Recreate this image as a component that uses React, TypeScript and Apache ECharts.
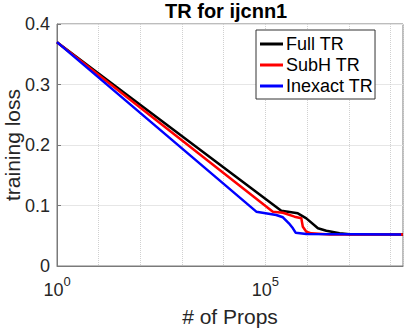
import React, { useEffect, useRef } from "react";
import * as echarts from "echarts";

const fullX = [1, 2.4e5, 6.0e5, 9.6e5, 1.82e6, 2.89e6, 6.0e6, 1.05e7, 2e8];
const fullY = [0.37, 0.0914, 0.0871, 0.0788, 0.0623, 0.0583, 0.054, 0.0524, 0.052];
const subhX = [1, 1.51e5, 2.63e5, 5.0e5, 7.26e5, 7.9e5, 9.6e5, 1.26e6, 3.5e6, 2e8];
const subhY = [0.37, 0.0898, 0.0881, 0.0815, 0.0788, 0.065, 0.0567, 0.054, 0.052, 0.052];
const inexX = [1, 6.05e4, 1.82e5, 2.63e5, 3.66e5, 4.57e5, 5.3e5, 9.6e5, 1.8e8];
const inexY = [0.37, 0.0898, 0.0843, 0.0805, 0.0706, 0.0623, 0.055, 0.0529, 0.052];
const seriesNames = ["Full TR", "SubH TR", "Inexact TR"];
const seriesColors = ["#000000", "#ff0000", "#0000ff"];
const yTicks = [0, 0.1, 0.2, 0.3, 0.4];
const xLabelExponents = [0, 5];

const FONT = "'Liberation Sans', Arial, Helvetica, sans-serif";

const zip = (xs: number[], ys: number[]) => xs.map((x, i) => [x, ys[i]]);

export default function App() {
  const ref = useRef<HTMLDivElement>(null);
  useEffect(() => {
    if (!ref.current) return;
    const chart = echarts.init(ref.current, undefined, { renderer: "svg" });
    const data = [zip(fullX, fullY), zip(subhX, subhY), zip(inexX, inexY)];
    chart.setOption({
      animation: false,
      backgroundColor: "#ffffff",
      title: {
        text: "TR for ijcnn1",
        left: 165,
        top: 1,
        padding: 0,
        textStyle: { fontFamily: FONT, fontSize: 20, fontWeight: "bold", color: "#000" },
      },
      grid: {
        left: 57,
        right: 2,
        top: 24,
        bottom: 64,
        containLabel: false,
        outerBoundsMode: "none",
        show: true,
        borderColor: "#7a7a7a",
        borderWidth: 1,
      },
      legend: {
        orient: "vertical",
        left: 256,
        top: 30,
        padding: [5, 2, 4, 4],
        itemGap: 3,
        itemWidth: 23,
        itemHeight: 3,
        icon: "rect",
        backgroundColor: "#ffffff",
        borderColor: "#333333",
        borderWidth: 1,
        borderRadius: 0,
        textStyle: { fontFamily: FONT, fontSize: 18, color: "#000", padding: [0, 0, 0, -2] },
        data: seriesNames,
      },
      xAxis: {
        type: "log",
        logBase: 10,
        min: 1,
        max: 2e8,
        interval: 1,
        name: "# of Props",
        nameLocation: "middle",
        nameGap: 40,
        nameMoveOverlap: false,
        nameTextStyle: { fontFamily: FONT, fontSize: 21, color: "#262626" },
        axisLine: { show: true, lineStyle: { color: "#7a7a7a", width: 1 } },
        axisTick: { show: false },
        splitLine: { show: true, lineStyle: { color: "#d0d0d0", type: "dotted", width: 1 } },
        axisLabel: {
          margin: 9,
          showMaxLabel: false,
          formatter: (v: number) => {
            const e = Math.round(Math.log10(v));
            return xLabelExponents.includes(e) ? `{b|10}{s|${e}}` : "";
          },
          rich: {
            b: { fontFamily: FONT, fontSize: 18, color: "#262626", verticalAlign: "bottom", lineHeight: 24 },
            s: { fontFamily: FONT, fontSize: 13, color: "#262626", verticalAlign: "top" },
          },
        },
      },
      yAxis: {
        type: "value",
        min: yTicks[0],
        max: yTicks[yTicks.length - 1],
        interval: 0.1,
        name: "training loss",
        nameLocation: "middle",
        nameGap: 34,
        nameMoveOverlap: false,
        nameTextStyle: { fontFamily: FONT, fontSize: 21, color: "#262626" },
        axisLine: { show: true, lineStyle: { color: "#7a7a7a", width: 1 } },
        axisTick: { show: true, inside: true, length: 4, lineStyle: { color: "#7a7a7a" } },
        splitLine: { show: true, lineStyle: { color: "#e6e6e6", width: 1 } },
        axisLabel: {
          margin: 7,
          fontFamily: FONT,
          fontSize: 18,
          color: "#262626",
          formatter: (v: number) => String(Math.round(v * 10) / 10),
        },
      },
      series: seriesNames.map((name, i) => ({
        name,
        type: "line",
        data: data[i],
        showSymbol: false,
        symbol: "none",
        color: seriesColors[i],
        lineStyle: { color: seriesColors[i], width: 2.5 },
        z: 2 + i,
      })),
    });
    return () => chart.dispose();
  }, []);
  return (
    <div
      ref={ref}
      style={{ position: "fixed", left: 0, top: 0, width: 405, height: 330 }}
    />
  );
}
